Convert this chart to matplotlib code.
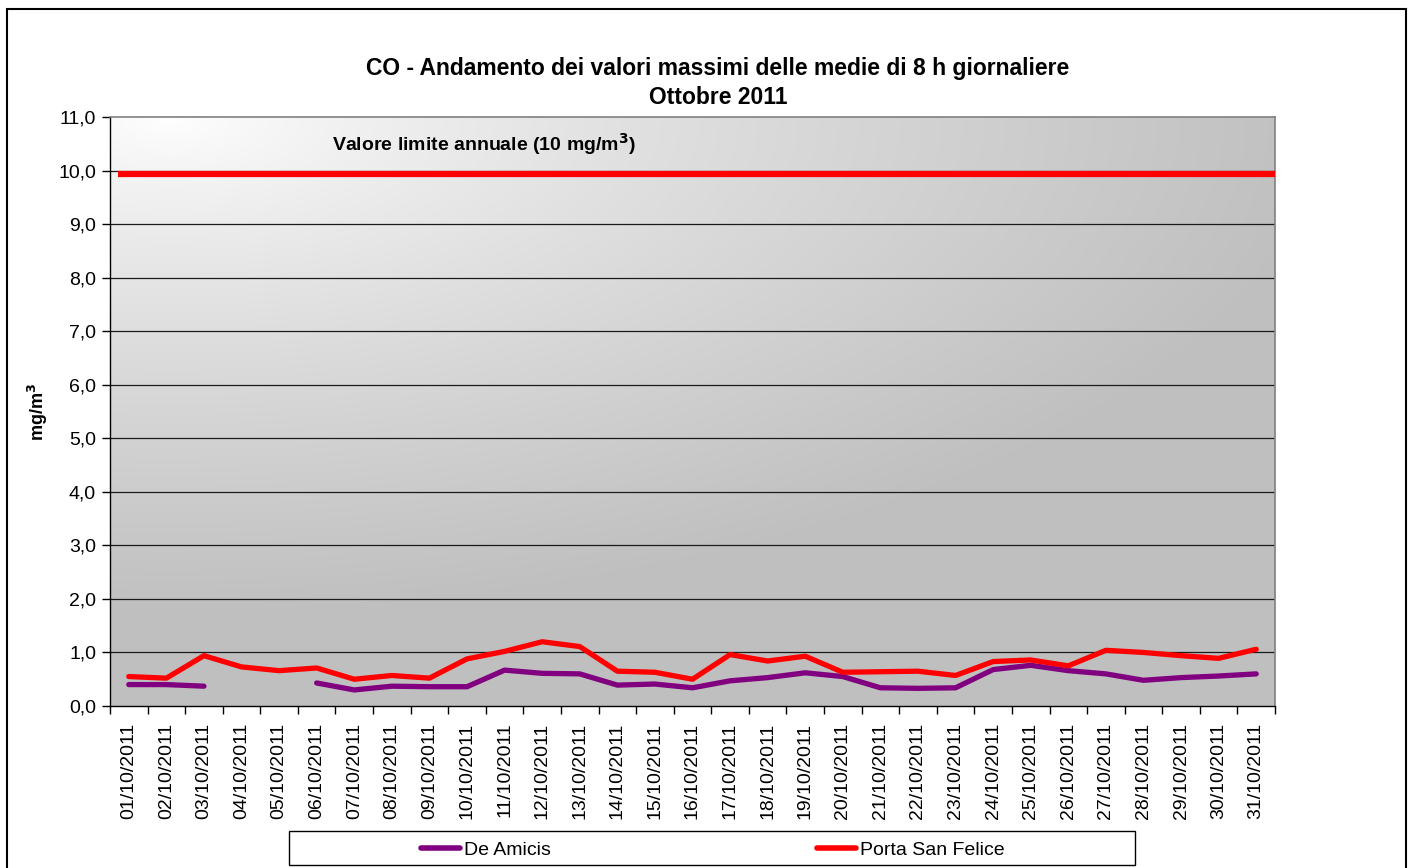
import numpy as np
import matplotlib
matplotlib.use("Agg")
import matplotlib.pyplot as plt
from matplotlib.patches import Rectangle
from matplotlib.ticker import FixedLocator, FuncFormatter

plt.rcParams['font.family'] = ['Liberation Sans', 'DejaVu Sans']

days = [f"{d:02d}/10/2011" for d in range(1, 32)]
de_amicis = [0.40, 0.40, 0.37, np.nan, np.nan, 0.43, 0.30, 0.37, 0.36, 0.36,
             0.67, 0.61, 0.60, 0.39, 0.41, 0.34, 0.47, 0.53, 0.62, 0.55,
             0.34, 0.33, 0.34, 0.68, 0.76, 0.66, 0.60, 0.48, 0.53, 0.56, 0.60]
porta_san_felice = [0.55, 0.52, 0.94, 0.73, 0.66, 0.71, 0.50, 0.57, 0.52, 0.88,
                    1.02, 1.20, 1.11, 0.65, 0.63, 0.50, 0.96, 0.84, 0.93, 0.63,
                    0.64, 0.65, 0.57, 0.83, 0.86, 0.75, 1.04, 1.00, 0.94, 0.89, 1.06]
limit_value = 9.93
y_ticks = [0, 1, 2, 3, 4, 5, 6, 7, 8, 9, 10, 11]

W, H = 1412, 868
fig = plt.figure(figsize=(W / 100, H / 100), dpi=100)
fig.patch.set_facecolor('white')

# outer border
fig.patches.append(Rectangle((7 / W, -0.01), (1406 - 7) / W, (868 - 9) / H + 0.01,
                             transform=fig.transFigure, fill=False,
                             edgecolor='black', linewidth=1.5))

ax = fig.add_axes([110 / W, (H - 706) / H, 1165 / W, 589 / H])
x = np.arange(len(days))
ax.set_xlim(-0.5, len(days) - 0.5)
ax.set_ylim(0, 11)

# gradient background
nu, nv = 300, 200
u = np.linspace(0, 1, nu)
v = np.linspace(1, 0, nv)
U, V = np.meshgrid(u, v)
t = np.sqrt(((U - 0.05) / 1.0) ** 2 + ((1 - V) / 0.85) ** 2)
t = np.clip(t / 1.0, 0, 1) ** 0.8
g = 1.0 - (1.0 - 0.75) * t
img = np.dstack([g, g, g])
ax.imshow(img, extent=[-0.5, len(days) - 0.5, 0, 11], aspect='auto', zorder=0,
          interpolation='bilinear')

# grid
for yv in y_ticks[1:-1]:
    ax.axhline(yv, color='#1a1a1a', linewidth=0.9, zorder=1)

ax.plot([-0.3, len(days) - 0.5], [limit_value, limit_value], color='#ff0000',
        linewidth=4.5, solid_capstyle='butt', zorder=3)
ax.text(5.4, 10.5, "Valore limite annuale (10 mg/m$^{\\mathbf{3}}$)",
        fontsize=14, fontweight='bold', ha='left', va='center', zorder=4)

l1, = ax.plot(x, de_amicis, color='#800080', linewidth=3.8, solid_capstyle='round',
              solid_joinstyle='round', zorder=3, label='De Amicis')
l2, = ax.plot(x, porta_san_felice, color='#ff0000', linewidth=3.8,
              solid_capstyle='round', solid_joinstyle='round', zorder=3,
              label='Porta San Felice')

# axes styling
for s in ['top', 'right']:
    ax.spines[s].set_color('#808080')
    ax.spines[s].set_linewidth(1.2)
for s in ['left', 'bottom']:
    ax.spines[s].set_color('black')
    ax.spines[s].set_linewidth(1.0)

ax.yaxis.set_major_locator(FixedLocator(y_ticks))
ax.yaxis.set_major_formatter(FuncFormatter(lambda val, p: f"{val:.1f}".replace('.', ',')))
ax.tick_params(axis='y', direction='out', length=6, width=1, labelsize=14, pad=4)

ax.xaxis.set_major_locator(FixedLocator(np.arange(-0.5, len(days), 1.0)))
ax.xaxis.set_major_formatter(FuncFormatter(lambda val, p: ""))
ax.set_xticks(x, minor=True)
ax.set_xticklabels(days, minor=True, rotation=90, fontsize=14)
ax.tick_params(axis='x', which='major', direction='out', length=6, width=1)
ax.tick_params(axis='x', which='minor', length=0, pad=12)

ax.set_ylabel("mg/m$^{\\mathbf{3}}$", fontsize=13, fontweight='bold')
ax.yaxis.set_label_coords((50 - 110) / 1165, (706 - 412) / 589)

fig.text(718 / W, 1 - 68 / H, "CO - Andamento dei valori massimi delle medie di 8 h giornaliere",
         ha='center', va='center', fontsize=16.5, fontweight='bold')
fig.text(718 / W, 1 - 97 / H, "Ottobre 2011", ha='center', va='center',
         fontsize=16.5, fontweight='bold')

# legend
fig.patches.append(Rectangle((289 / W, (H - 865) / H), (1135 - 289) / W, 34 / H,
                             transform=fig.transFigure, fill=True, facecolor='white',
                             edgecolor='black', linewidth=1.0))
leg = fig.legend(handles=[l1, l2], loc='center', bbox_to_anchor=(713 / W, (H - 850) / H),
                 ncol=2, frameon=False, fontsize=14, handlelength=2.0,
                 handletextpad=0.2, columnspacing=13.7)
for h in leg.legend_handles:
    h.set_linewidth(4)

fig.savefig("out.png", dpi=100)
